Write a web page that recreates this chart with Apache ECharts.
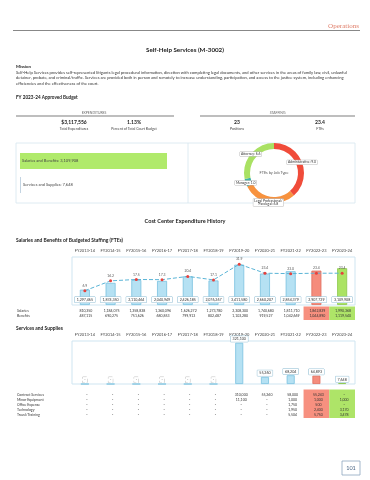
<!DOCTYPE html>
<html><head><meta charset="utf-8">
<script src="https://cdn.jsdelivr.net/npm/echarts@6/dist/echarts.min.js"></script>
<style>html,body{margin:0;padding:0;background:#fff}#c{width:370px;height:480px}</style>
</head><body><div id="c"></div><script>
// ---------- data ----------
const categories = ['FY2013-14','FY2014-15','FY2015-16','FY2016-17','FY2017-18','FY2018-19','FY2019-20','FY2020-21','FY2021-22','FY2022-23','FY2023-24'];
const salaries = [810350, 1184075, 1358838, 1360096, 1626272, 1273780, 2308300, 1740680, 1811710, 1862839, 1990368];
const benefits = [487115, 690275, 751626, 680853, 799913, 802487, 1103280, 919527, 1042669, 1044890, 1119540];
const salBenTotals = [1297465, 1874350, 2110464, 2040949, 2426185, 2076267, 3411580, 2660207, 2854379, 2907729, 3109908];
const ftes = [6.9, 16.2, 17.5, 17.3, 20.4, 17.1, 31.9, 23.4, 23.0, 23.4, 23.4];
const ssRows = ['Contract Services','Minor Equipment','Office Expense','Technology','Travel/Training'];
const contractServices = [0,0,0,0,0,0,310000,55260,58000,55243,0];
const minorEquipment  = [0,0,0,0,0,0,11100,0,1000,1000,1000];
const officeExpense   = [0,0,0,0,0,0,0,0,1750,500,0];
const technology      = [0,0,0,0,0,0,0,0,1950,2400,3170];
const travelTraining  = [0,0,0,0,0,0,0,0,5504,5750,3478];
const ssTotals = [0,0,0,0,0,0,321100,55260,68204,64893,7648];
const budgetCategories = ['Salaries and Benefits','Services and Supplies'];
const budgetValues = [3109908, 7648];
const jobTypes = ['Administrative','Legal Professional/ Paralegal','Manager','Attorney'];
const jobFtes = [9.0, 6.8, 1.0, 6.6];
const headline = {totalExpenditures:'$3,117,556', pctBudget:'1.13%', positions:'23', fteTotal:'23.4'};
const missionLines = [
 'Self-Help Services provides self-represented litigants legal procedural information, direction with completing legal documents, and other services in the areas of family law, civil, unlawful',
 'detainer, probate, and criminal/traffic. Services are provided both in person and remotely to increase understanding, participation, and access to the justice system, including enhancing',
 'efficiencies and the effectiveness of the court.'];

// ---------- helpers ----------
const FONT = 'Lato';
const fmt = v => v === 0 ? '-' : Number(v).toLocaleString('en-US');
const ctx = document.createElement('canvas').getContext('2d');
function fit(text, weight, family, w){ ctx.font = weight+' 10px '+family; return 10*w/ctx.measureText(text).width; }
function T(x, y, text, o){
  o = o || {};
  const size = o.size || 4, weight = o.weight || 'normal', fam = o.family || FONT;
  const al = o.align || 'left';
  return {type:'text', x:x, y:y, z:o.z||10, silent:true,
    style:{text:text, fill:o.fill||'#222', font: weight+' '+size+'px '+fam,
      align:al, textAlign:al, verticalAlign:'middle', textVerticalAlign:'middle'}};
}
function L(x1,y1,x2,y2,stroke,w){ return {type:'line', z:5, silent:true, shape:{x1,y1,x2,y2}, style:{stroke, lineWidth:w}}; }
function R(x,y,w,h,fill,stroke,lw){ return {type:'rect', z:1, silent:true, shape:{x,y,width:w,height:h}, style:{fill:fill||'none', stroke:stroke||null, lineWidth:lw||0}}; }

const blue = {color:'#b5e1f3', borderColor:'#78c1df', borderWidth:0.8};
const salmon = {color:'#f58c7c', borderColor:'#e0705f', borderWidth:0.8};
const green = {color:'#abe364', borderColor:'#8cc84a', borderWidth:0.8};
const styleFor = i => i === 9 ? salmon : (i === 10 ? green : blue);

const chart = echarts.init(document.getElementById('c'), null, {renderer:'canvas'});
const axisLbl = {fontSize:4, color:'#444', fontFamily:FONT, interval:0, margin:4};

const option = {
  animation:false,
  textStyle:{fontFamily:FONT},
  grid:[
    {left:20, top:149, width:147, height:48},
    {left:72, right:15, top:257, bottom:175, show:true, borderColor:'#cfe5f1', borderWidth:1},
    {left:72, right:15, top:341, bottom:96, show:true, borderColor:'#cfe5f1', borderWidth:1}
  ],
  xAxis:[
    {gridIndex:0, type:'value', min:0, max:budgetValues[0], show:false},
    {gridIndex:1, type:'category', data:categories, position:'top', axisLine:{show:false}, axisTick:{show:false}, axisLabel:axisLbl},
    {gridIndex:2, type:'category', data:categories, position:'top', axisLine:{show:false}, axisTick:{show:false}, axisLabel:axisLbl}
  ],
  yAxis:[
    {gridIndex:0, type:'category', data:budgetCategories, inverse:true, show:false},
    {gridIndex:1, type:'value', min:0, max:4060000, show:false},
    {gridIndex:1, type:'value', min:-6.6, max:38.7, show:false},
    {gridIndex:2, type:'value', min:0, max:335000, show:false}
  ],
  series:[
    {type:'bar', xAxisIndex:0, yAxisIndex:0, barWidth:16, barMinHeight:1,
     data: budgetValues.map((v,i)=>({value:v, itemStyle:{color: i===0 ? '#b0ea6b' : '#c3d4e2'},
       label:{position: i===0 ? 'insideLeft' : 'right'}})),
     label:{show:true, distance:2, fontSize:4, color:'#444', formatter:p=>p.name+': '+fmt(p.value)}},
    {type:'pie', center:[274,173], radius:[24,30], startAngle:90, clockwise:true,
     data: jobTypes.map((n,i)=>({name:n, value:jobFtes[i]})),
     color:['#f04c3a','#f7923e','#3fb2a6','#a9e163'],
     labelLine:{show:false},
     label:{show:true, position:'inside', fontSize:3.4, color:'#333', backgroundColor:'#fff', borderColor:'#aaa', borderWidth:0.4, padding:[0.6,1],
       formatter:p=> p.name.replace('/ ','/\n')+': '+p.value.toFixed(1)},
     emphasis:{disabled:true}},
    {type:'bar', xAxisIndex:1, yAxisIndex:1, barWidth:10,
     data: salBenTotals.map((v,i)=>({value:v, itemStyle:styleFor(i)})),
     label:{show:true, position:'insideBottom', distance:2.5, formatter:p=>fmt(p.value), fontSize:3.6, color:'#333',
       backgroundColor:'#fff', borderColor:'#8fbdd3', borderWidth:0.5, padding:[1,2,0.6,2]}},
    {type:'line', xAxisIndex:1, yAxisIndex:2, data:ftes, symbol:'circle', symbolSize:3,
     itemStyle:{color:'#e8413c'}, lineStyle:{color:'#5ab4d6', type:'dashed', width:1},
     label:{show:true, position:'top', distance:2, fontSize:3.4, color:'#555', formatter:p=>p.value.toFixed(1)}, z:5},
    {type:'bar', xAxisIndex:2, yAxisIndex:3, barWidth:8,
     data: ssTotals.map((v,i)=>({value:v, itemStyle:styleFor(i),
        label: v===0 ? {borderType:'dashed', borderColor:'#bbb', color:'#999', padding:[1,1.5,0.5,1.5]} : {}})),
     label:{show:true, position:'top', distance:1, formatter:p=>fmt(p.value), fontSize:3.6, color:'#333',
       backgroundColor:'#fff', borderColor:'#8fbdd3', borderWidth:0.5, padding:[1,2,0.6,2]}}
  ]
};
chart.setOption(option);

// ---------- text / graphic layer ----------
const g = [];
g.push(T(359, 26, 'Operations', {align:'right', fill:'#e0806c', family:'Liberation Serif', size:fit('Operations','normal','Liberation Serif',31)}));
g.push(L(13, 30.5, 360, 30.5, '#7a7a7a', 0.9));
g.push(T(185, 50, 'Self-Help Services (M-3002)', {align:'center', weight:'bold', size:fit('Self-Help Services (M-3002)','bold',FONT,78)}));
g.push(T(16, 67, 'Mission', {weight:'bold', size:fit('Mission','bold',FONT,15)}));
const mSize = fit(missionLines[0],'normal',FONT,332);
missionLines.forEach((l,i)=>g.push(T(16, 72.5+i*5.5, l, {size:mSize, fill:'#333'})));
g.push(T(16, 98, 'FY 2023-24 Approved Budget', {weight:'bold', size:fit('FY 2023-24 Approved Budget','bold',FONT,62)}));
// headline strip
g.push(T(94, 113, 'EXPENDITURES', {align:'center', size:3.4, fill:'#666'}));
g.push(T(277.5, 113, 'STAFFING', {align:'center', size:3.4, fill:'#666'}));
g.push(L(16, 116, 174, 116, '#a8a8a8', 1.4));
g.push(L(200, 116, 355, 116, '#a8a8a8', 1.4));
[[74, headline.totalExpenditures, 'Total Expenditures'],[134, headline.pctBudget, 'Percent of Total Court Budget'],
 [237, headline.positions, 'Positions'],[320, headline.fteTotal, 'FTEs']].forEach(a=>{
  g.push(T(a[0], 122.5, a[1], {align:'center', weight:'bold', size:5}));
  g.push(T(a[0], 129, a[2], {align:'center', size:3.5, fill:'#444'}));
});
g.push(R(16, 143, 339, 60, 'none', '#d6e6ef', 0.8));
g.push(L(188, 143, 188, 203, '#d6e6ef', 0.8));
g.push(T(274, 173, 'FTEs by Job Type', {align:'center', size:3.8, fill:'#555'}));
g.push(T(185, 221, 'Cost Center Expenditure History', {align:'center', weight:'bold', size:fit('Cost Center Expenditure History','bold',FONT,81)}));
g.push(T(16, 240, 'Salaries and Benefits of Budgeted Staffing (FTEs)', {weight:'bold', size:fit('Salaries and Benefits of Budgeted Staffing (FTEs)','bold',FONT,107)}));
g.push(T(16, 328, 'Services and Supplies', {weight:'bold', size:fit('Services and Supplies','bold',FONT,47)}));

// tables positioned from the category axis
const cx = categories.map(c => chart.convertToPixel({xAxisIndex:1}, c));
const half = (cx[1]-cx[0])/2;
// highlight cells
g.push(R(cx[9]-half, 306.5, 2*half, 13.5, '#f7907f'));
g.push(R(cx[10]-half, 306.5, 2*half, 13.5, '#aee468'));
g.push(R(cx[9]-half, 389.5, 2*half, 28.5, '#f7907f'));
g.push(R(cx[10]-half, 389.5, 2*half, 28.5, '#aee468'));
const tsz = 3.5;
[['Salaries', salaries, 310.5], ['Benefits', benefits, 315.5]].forEach(r=>{
  g.push(T(17, r[2], r[0], {size:tsz, fill:'#333'}));
  r[1].forEach((v,i)=>g.push(T(cx[i]+1, r[2], fmt(v), {align:'center', size:tsz, fill:'#333'})));
});
[contractServices, minorEquipment, officeExpense, technology, travelTraining].forEach((arr,k)=>{
  const y = 394.5 + k*5;
  g.push(T(17, y, ssRows[k], {size:tsz, fill:'#333'}));
  arr.forEach((v,i)=>g.push(T(cx[i]+2, y, fmt(v), {align:'center', size:tsz, fill:'#333'})));
});
// page number
g.push(R(342, 461, 18, 14, '#fff', '#8ea6bf', 0.8));
g.push(T(351, 468, '101', {align:'center', size:5.5, fill:'#4b6786'}));

chart.setOption({graphic:{elements:g}});
</script></body></html>
